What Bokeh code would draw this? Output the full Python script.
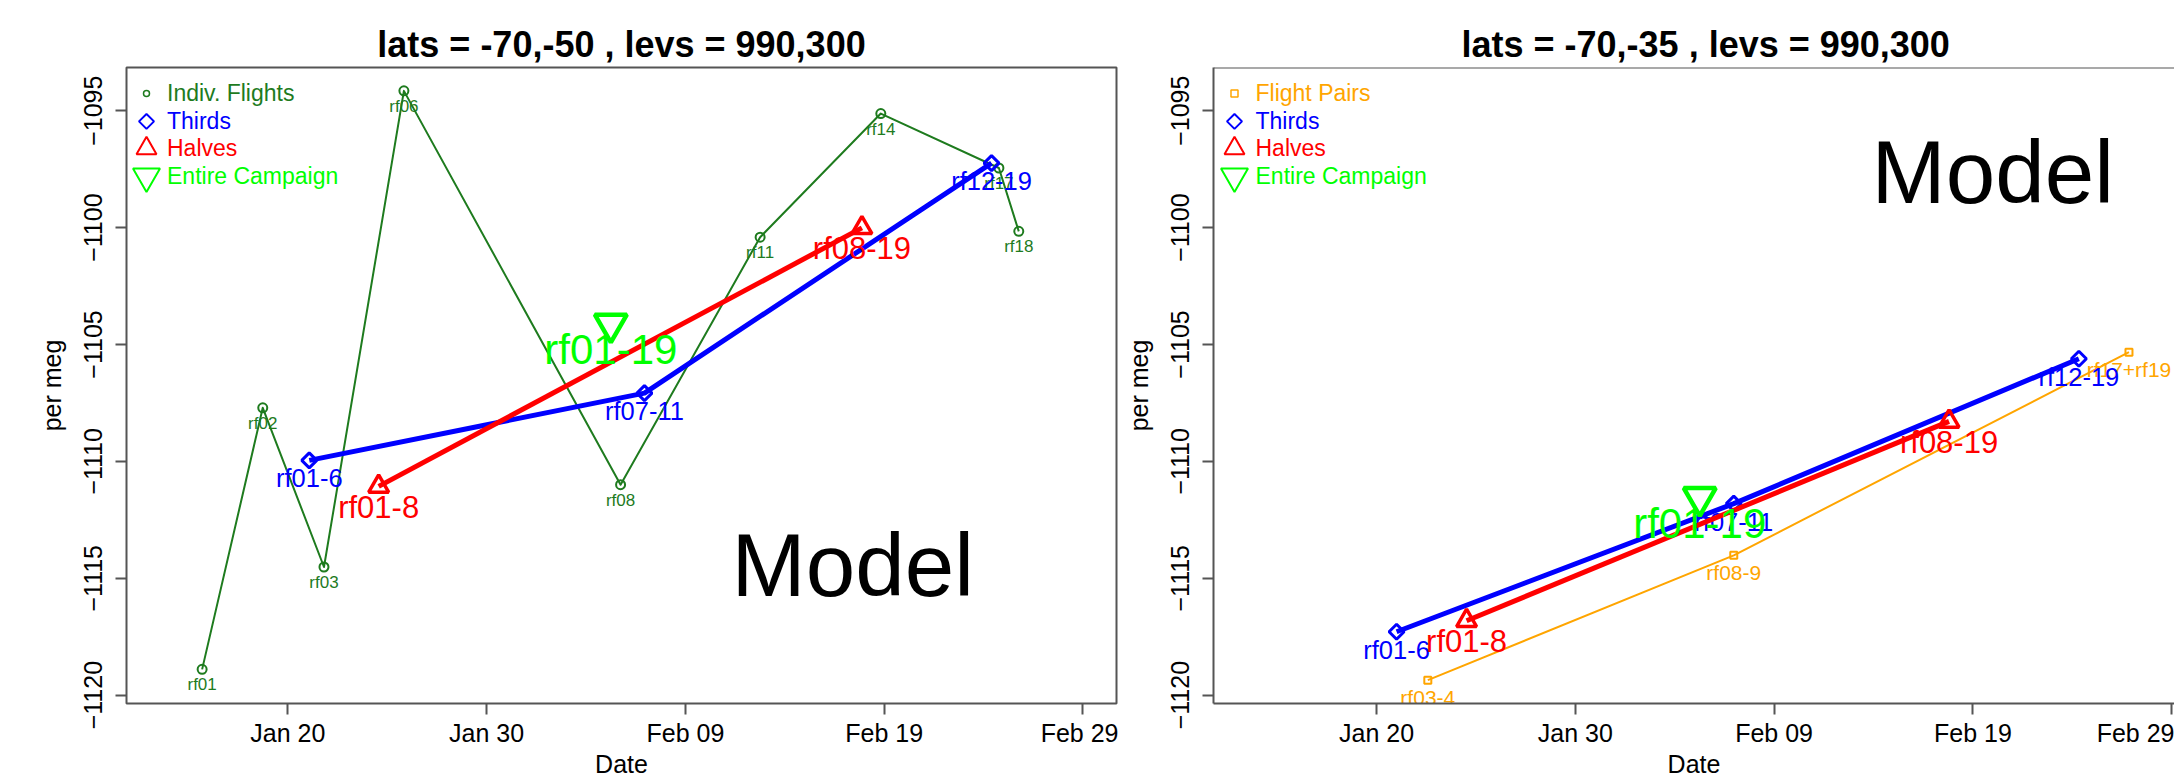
import math
import pandas as pd
from bokeh.plotting import figure
from bokeh.layouts import row
from bokeh.models import (ColumnDataSource, Range1d, FixedTicker,
                          DatetimeTickFormatter, Label, Span)
from bokeh.core.properties import value
from bokeh.embed import file_html
from bokeh.resources import INLINE

FONT = "Liberation Sans"

# ---------------- data ----------------
# Left panel: lats = -70,-50
flight_labels = ["rf01", "rf02", "rf03", "rf06", "rf08", "rf11", "rf14", "rf17", "rf18"]
flight_dates = ["2016-01-15 16:34", "2016-01-18 17:46", "2016-01-21 19:41",
                "2016-01-25 20:10", "2016-02-05 17:46", "2016-02-12 18:14",
                "2016-02-18 19:55", "2016-02-24 18:29", "2016-02-25 18:29"]
flight_values = [-1118.90, -1107.71, -1114.52, -1094.15, -1111.00,
                 -1100.41, -1095.12, -1097.45, -1100.16]

thirds_labels_l = ["rf01-6", "rf07-11", "rf12-19"]
thirds_dates_l = ["2016-01-21 01:55", "2016-02-06 22:34", "2016-02-24 09:36"]
thirds_values_l = [-1109.96, -1107.08, -1097.24]

halves_labels_l = ["rf01-8", "rf08-19"]
halves_dates_l = ["2016-01-24 13:41", "2016-02-17 21:07"]
halves_values_l = [-1111.07, -1100.01]

entire_labels_l = ["rf01-19"]
entire_dates_l = ["2016-02-05 06:00"]
entire_values_l = [-1104.12]

# Right panel: lats = -70,-35
pairs_labels = ["rf03-4", "rf08-9", "rf17+rf19"]
pairs_dates = ["2016-01-22 13:55", "2016-02-06 23:17", "2016-02-26 20:24"]
pairs_values = [-1119.36, -1114.02, -1105.33]

thirds_labels_r = ["rf01-6", "rf07-11", "rf12-19"]
thirds_dates_r = ["2016-01-21 00:14", "2016-02-06 23:17", "2016-02-24 07:55"]
thirds_values_r = [-1117.29, -1111.81, -1105.61]

halves_labels_r = ["rf01-8", "rf08-19"]
halves_dates_r = ["2016-01-24 12:43", "2016-02-17 19:12"]
halves_values_r = [-1116.82, -1108.29]

entire_labels_r = ["rf01-19"]
entire_dates_r = ["2016-02-05 06:14"]
entire_values_r = [-1111.54]

titles = ["lats = -70,-50 , levs = 990,300", "lats = -70,-35 , levs = 990,300"]
legend_labels_l = ["Indiv. Flights", "Thirds", "Halves", "Entire Campaign"]
legend_labels_r = ["Flight Pairs", "Thirds", "Halves", "Entire Campaign"]
x_tick_dates = ["2016-01-20", "2016-01-30", "2016-02-09", "2016-02-19", "2016-02-29"]
y_ticks = [-1120, -1115, -1110, -1105, -1100, -1095]
x_label = "Date"
y_label = "per meg"
annotation_text = "Model"

# ---------------- styling / layout constants ----------------
C_FLIGHT = "#1E7B1E"
C_THIRDS = "#0000FF"
C_HALVES = "#FF0000"
C_ENTIRE = "#00FF00"
C_PAIRS = "#FFA500"
BOX = "#555555"

FIG_H = 780
BORDER_TOP = 67
BORDER_BOTTOM = 76
FRAME_H = FIG_H - BORDER_TOP - BORDER_BOTTOM
Y_START, Y_END = -1120.36, -1093.15


def ts(s):
    return pd.Timestamp(s)


def src(dates, values, labels):
    return ColumnDataSource(dict(x=[ts(d) for d in dates], y=values, label=labels))


def make_fig(width, bl, br, x_start, x_end, title, title_align, title_offset):
    p = figure(width=width, height=FIG_H, x_axis_type="datetime",
               x_range=Range1d(ts(x_start), ts(x_end)),
               y_range=Range1d(Y_START, Y_END),
               output_backend="svg", toolbar_location=None,
               min_border_left=bl, min_border_right=br,
               min_border_top=BORDER_TOP, min_border_bottom=BORDER_BOTTOM,
               background_fill_color="white", border_fill_color="white")
    p.title.text = title
    p.title.text_font = FONT
    p.title.text_font_size = "36px"
    p.title.text_font_style = "bold"
    p.title.text_color = "black"
    p.title.align = title_align
    p.title.offset = title_offset
    p.title.standoff = 6
    p.xgrid.visible = False
    p.ygrid.visible = False

    xa = p.xaxis[0]
    xa.ticker = FixedTicker(ticks=[ts(d).value // 10**6 for d in x_tick_dates])
    xa.formatter = DatetimeTickFormatter(days="%b %d", months="%b %d", hours="%b %d",
                                         hourmin="%b %d", years="%b %d")
    xa.axis_label = x_label
    xa.axis_label_standoff = 0
    ya = p.yaxis[0]
    ya.ticker = FixedTicker(ticks=y_ticks)
    ya.major_label_orientation = "parallel"
    ya.axis_label = y_label
    ya.axis_label_standoff = 16
    for ax in (xa, ya):
        ax.major_label_text_font = FONT
        ax.major_label_text_font_size = "25px"
        ax.major_label_text_color = "black"
        ax.axis_label_text_font = FONT
        ax.axis_label_text_font_size = "25px"
        ax.axis_label_text_font_style = "normal"
        ax.axis_label_text_color = "black"
        ax.major_tick_in = 0
        ax.major_tick_out = 11
        ax.minor_tick_in = 0
        ax.minor_tick_out = 0
        ax.major_tick_line_color = BOX
        ax.major_tick_line_width = 2
    xa.major_label_standoff = 4
    ya.major_label_standoff = 13
    return p


def series(p, s, color, marker, size, lw_line, lw_marker, fsize, yoff, angle=0.0, line=True):
    if line:
        p.line("x", "y", source=s, line_color=color, line_width=lw_line, line_join="round")
    p.scatter("x", "y", source=s, marker=marker, size=size, angle=angle,
              fill_color=None, line_color=color, line_width=lw_marker)
    p.text("x", "y", text="label", source=s, text_font=value(FONT),
           text_font_size=fsize, text_color=color, text_align="center",
           text_baseline="middle", y_offset=yoff)


def legend(p, x_start, x_end, frame_w, labels, specs, mx, tx):
    rows = [26, 54, 81, 109]
    xs = ts(x_start)
    span = ts(x_end) - xs
    for lab, (color, marker, size, lw, angle), ry in zip(labels, specs, rows):
        xm = xs + span * (mx / frame_w)
        ym = Y_END - (Y_END - Y_START) * ry / FRAME_H
        p.scatter([xm], [ym], marker=marker, size=size, angle=angle,
                  fill_color=None, line_color=color, line_width=lw)
        p.add_layout(Label(x=tx, y=FRAME_H - ry, x_units="screen", y_units="screen",
                           text=lab, text_font=FONT, text_font_size="23px",
                           text_color=color, text_baseline="middle", text_align="left"))


# ---------------- left panel ----------------
L_W, L_BL, L_BR = 1118, 126, 2
L_FW = L_W - L_BL - L_BR
L_X0, L_X1 = "2016-01-11 21:16", "2016-03-01 16:28"
pl = make_fig(L_W, L_BL, L_BR, L_X0, L_X1, titles[0], "center", 0)
pl.outline_line_color = BOX
pl.outline_line_width = 2
pl.xaxis.axis_line_color = None
pl.yaxis.axis_line_color = None

series(pl, src(flight_dates, flight_values, flight_labels), C_FLIGHT, "circle", 9, 2, 2, "17px", 15.5)
series(pl, src(thirds_dates_l, thirds_values_l, thirds_labels_l), C_THIRDS, "square", 10.6, 5, 3, "25.5px", 18, angle=math.pi / 4)
series(pl, src(halves_dates_l, halves_values_l, halves_labels_l), C_HALVES, "triangle", 20, 5, 3.5, "31px", 21)
series(pl, src(entire_dates_l, entire_values_l, entire_labels_l), C_ENTIRE, "inverted_triangle", 32, 5, 4.5, "42px", 26, line=False)

specs_l = [(C_FLIGHT, "circle", 6, 1.5, 0.0),
           (C_THIRDS, "square", 10.6, 2, math.pi / 4),
           (C_HALVES, "triangle", 20, 2, 0.0),
           (C_ENTIRE, "inverted_triangle", 27, 2, 0.0)]
legend(pl, L_X0, L_X1, L_FW, legend_labels_l, specs_l, 20, 40.5)
pl.add_layout(Label(x=605, y=138.5, x_units="screen", y_units="screen", text=annotation_text,
                    text_font=FONT, text_font_size="89px", text_color="black",
                    text_baseline="alphabetic", text_align="left"))

# ---------------- right panel ----------------
R_W, R_BL, R_BR = 1056, 95, 0
R_FW = R_W - R_BL - R_BR
R_X0, R_X1 = "2016-01-11 19:12", "2016-02-29 03:22"
pr = make_fig(R_W, R_BL, R_BR, R_X0, R_X1, titles[1], "left", 248)
pr.outline_line_color = None
for ax in (pr.xaxis[0], pr.yaxis[0]):
    ax.axis_line_color = BOX
    ax.axis_line_width = 2
pr.add_layout(Span(location=Y_END, dimension="width", line_color=BOX, line_width=2))

series(pr, src(pairs_dates, pairs_values, pairs_labels), C_PAIRS, "square", 7, 2, 2, "21px", 17)
series(pr, src(thirds_dates_r, thirds_values_r, thirds_labels_r), C_THIRDS, "square", 10.6, 5, 3, "25.5px", 18, angle=math.pi / 4)
series(pr, src(halves_dates_r, halves_values_r, halves_labels_r), C_HALVES, "triangle", 20, 5, 3.5, "31px", 21)
series(pr, src(entire_dates_r, entire_values_r, entire_labels_r), C_ENTIRE, "inverted_triangle", 32, 5, 4.5, "42px", 26, line=False)

specs_r = [(C_PAIRS, "square", 7, 1.5, 0.0),
           (C_THIRDS, "square", 10.6, 2, math.pi / 4),
           (C_HALVES, "triangle", 20, 2, 0.0),
           (C_ENTIRE, "inverted_triangle", 27, 2, 0.0)]
legend(pr, R_X0, R_X1, R_FW, legend_labels_r, specs_r, 21, 42)
pr.add_layout(Label(x=658, y=531.8, x_units="screen", y_units="screen", text=annotation_text,
                    text_font=FONT, text_font_size="89px", text_color="black",
                    text_baseline="alphabetic", text_align="left"))

layout = row(pl, pr, spacing=0)
open("out.html", "w").write(file_html(layout, INLINE))
